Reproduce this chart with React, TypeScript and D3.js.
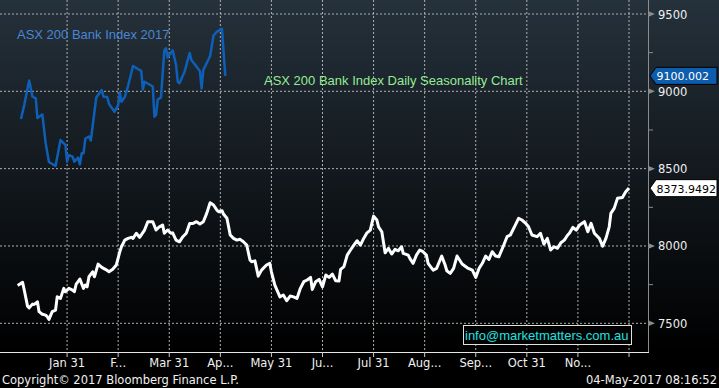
import * as d3 from 'd3';

// Seasonality line (white)
const seasonDates: string[] = [
  '01-01', '01-04', '01-05', '01-07', '01-08', '01-10', '01-11', '01-13', '01-14', '01-16',
  '01-18', '01-19', '01-20', '01-22', '01-24', '01-25', '01-27', '01-29', '01-30', '02-01',
  '02-03', '02-04', '02-05', '02-07', '02-09', '02-10', '02-11', '02-12', '02-14', '02-15',
  '02-17', '02-19', '02-21', '02-23', '02-25', '02-27', '03-01', '03-02', '03-04', '03-06',
  '03-08', '03-09', '03-11', '03-13', '03-16', '03-18', '03-21', '03-23', '03-25', '03-27',
  '03-28', '03-30', '04-01', '04-02', '04-04', '04-06', '04-08', '04-10', '04-12', '04-14',
  '04-16', '04-18', '04-20', '04-22', '04-24', '04-26', '04-28', '04-29', '05-01', '05-02',
  '05-04', '05-06', '05-08', '05-10', '05-12', '05-14', '05-16', '05-18', '05-19', '05-21',
  '05-23', '05-25', '05-28', '05-30', '05-31', '06-02', '06-05', '06-07', '06-09', '06-11',
  '06-13', '06-15', '06-17', '06-19', '06-21', '06-23', '06-24', '06-26', '06-28', '06-30',
  '07-02', '07-04', '07-06', '07-08', '07-10', '07-11', '07-13', '07-15', '07-17', '07-19',
  '07-21', '07-23', '07-25', '07-27', '07-29', '07-31', '08-02', '08-03', '08-05', '08-07',
  '08-09', '08-11', '08-13', '08-15', '08-17', '08-18', '08-21', '08-22', '08-24', '08-26',
  '08-28', '08-30', '09-01', '09-02', '09-05', '09-07', '09-10', '09-12', '09-13', '09-15',
  '09-17', '09-19', '09-22', '09-25', '09-28', '09-30', '10-02', '10-04', '10-06', '10-08',
  '10-10', '10-12', '10-14', '10-17', '10-19', '10-21', '10-24', '10-26', '10-28', '10-30',
  '11-01', '11-03', '11-06', '11-08', '11-10', '11-12', '11-14', '11-16', '11-18', '11-20',
  '11-22', '11-24', '11-25', '11-27', '11-29', '12-01', '12-04', '12-06', '12-08', '12-10',
  '12-13', '12-15', '12-17', '12-19', '12-20', '12-22', '12-24', '12-27', '12-29', '12-31',
];
const seasonValues: number[] = [
  7745, 7765, 7715, 7611, 7600, 7624, 7622, 7639, 7575, 7558,
  7553, 7542, 7525, 7575, 7585, 7671, 7661, 7726, 7704, 7726,
  7715, 7704, 7754, 7786, 7726, 7747, 7736, 7801, 7833, 7801,
  7883, 7862, 7849, 7833, 7849, 7877, 7963, 7995, 8038, 8049,
  8056, 8049, 8082, 8056, 8103, 8157, 8157, 8103, 8124, 8135,
  8082, 8103, 8082, 8085, 8038, 8027, 8060, 8082, 8146, 8146,
  8157, 8142, 8157, 8211, 8280, 8265, 8232, 8221, 8228, 8205,
  8179, 8071, 8049, 8038, 8043, 8027, 8006, 7909, 7898, 7904,
  7805, 7844, 7877, 7888, 7833, 7747, 7671, 7683, 7646, 7676,
  7671, 7661, 7726, 7769, 7780, 7797, 7719, 7769, 7784, 7736,
  7812, 7797, 7818, 7775, 7773, 7849, 7866, 7941, 7974, 8006,
  8034, 8006, 8049, 8085, 8103, 8193, 8168, 8124, 8092, 7956,
  7985, 7948, 7978, 7969, 7995, 7952, 7941, 7920, 7888, 7941,
  7974, 7963, 7941, 7888, 7844, 7855, 7935, 7877, 7840, 7823,
  7855, 7935, 7883, 7859, 7844, 7797, 7855, 7888, 7935, 7913,
  7963, 7935, 7930, 8006, 8060, 8071, 8135, 8179, 8168, 8150,
  8124, 8071, 8060, 8082, 8012, 8049, 7974, 7995, 7985, 8021,
  8038, 8071, 8082, 8120, 8103, 8135, 8157, 8092, 8146, 8082,
  8049, 7999, 8049, 8124, 8211, 8243, 8308, 8314, 8351, 8373.9492,
];

// ASX 200 Bank Index 2017 (blue)
const bankDates: string[] = [
  '01-03', '01-05', '01-08', '01-10', '01-12', '01-13', '01-16', '01-18', '01-20', '01-24',
  '01-27', '01-30', '01-31', '02-01', '02-03', '02-04', '02-06', '02-07', '02-08', '02-09',
  '02-10', '02-12', '02-13', '02-16', '02-19', '02-20', '02-22', '02-23', '02-26', '02-28',
  '03-01', '03-02', '03-04', '03-06', '03-09', '03-12', '03-14', '03-15', '03-16', '03-21',
  '03-22', '03-23', '03-24', '03-26', '03-28', '03-29', '03-30', '04-02', '04-04', '04-05',
  '04-06', '04-09', '04-12', '04-13', '04-18', '04-19', '04-20', '04-24', '04-26', '04-28',
  '05-01', '05-03',
];
const bankValues: number[] = [
  8821, 8911, 9070, 8965, 8955, 8827, 8850, 8664, 8543, 8517,
  8685, 8653, 8545, 8588, 8577, 8545, 8571, 8527, 8599, 8599,
  8695, 8708, 8682, 8960, 9008, 8965, 8963, 8918, 8868, 8911,
  8992, 8933, 8963, 9034, 9164, 9144, 9133, 9012, 9062, 9031,
  8836, 8847, 8947, 8961, 9265, 9278, 9219, 9265, 9170, 9062,
  9052, 9127, 9248, 9202, 9131, 9019, 9138, 9228, 9361, 9386,
  9404, 9100.002,
];

const monthLabels: string[] = [
  'Jan 31', 'F...', 'Mar 31', 'Ap...', 'May 31', 'Ju...', 'Jul 31', 'Aug...', 'Sep...', 'Oct 31', 'No...', '',
];
const yTicks: number[] = [7500, 8000, 8500, 9000, 9500];
const yMinor: number[] = [7750, 8250, 8750, 9250];

const W = 719;
const H = 388;
const plotRight = 648;
const plotBottom = 352;
const xStart = 16;
const xEnd = 629;

const parse = d3.timeParse('%Y-%m-%d');
const toDate = (s: string) => parse('2017-' + s) as Date;

// Bloomberg spaces months evenly, so the time scale is piecewise on month ends
const monthEnds: Date[] = d3.range(13).map((i) =>
  d3.timeDay.offset(d3.timeMonth.offset(new Date(2017, 0, 1), i), -1)
);
const x = d3
  .scaleTime()
  .domain(monthEnds)
  .range(d3.range(13).map((i) => xStart + (i * (xEnd - xStart)) / 12));

const y = d3.scaleLinear().domain([7500, 9500]).range([323.3, 14]);

const line = d3
  .line<[Date, number]>()
  .x((d) => x(d[0]))
  .y((d) => y(d[1]));

const seasonData: [Date, number][] = seasonDates.map((d, i) => [toDate(d), seasonValues[i]]);
const bankData: [Date, number][] = bankDates.map((d, i) => [toDate(d), bankValues[i]]);

const axisFont = 'DejaVu Sans';

function Tag({ value, label, fill, color }: { value: number; label: string; fill: string; color: string }) {
  const cy = y(value);
  const h = 17;
  const path = `M650,${cy} L656,${cy - h / 2} L717,${cy - h / 2} L717,${cy + h / 2} L656,${cy + h / 2} Z`;
  return (
    <g>
      <path d={path} fill={fill} stroke="#000" strokeWidth={1} />
      <text x={656.5} y={cy + 4.5} fill={color} fontFamily={axisFont} fontSize={11}>
        {label}
      </text>
    </g>
  );
}

export default function App() {
  const lastSeason = seasonValues[seasonValues.length - 1];
  const lastBank = bankValues[bankValues.length - 1];
  return (
    <svg width={W} height={H} style={{ position: 'absolute', left: 0, top: 0, display: 'block' }}>
      <defs>
        <linearGradient id="bg" x1="0" y1="0" x2="0" y2={plotBottom} gradientUnits="userSpaceOnUse">
          <stop offset="0" stopColor="#25313b" />
          <stop offset="0.5" stopColor="#12181d" />
          <stop offset="1" stopColor="#000000" />
        </linearGradient>
      </defs>
      <rect x={0} y={0} width={W} height={H} fill="#000" />
      <rect x={0} y={0} width={W} height={plotBottom} fill="url(#bg)" />

      {/* grid */}
      {monthEnds.slice(1).map((d, i) => (
        <line key={'gx' + i} x1={x(d)} x2={x(d)} y1={0} y2={plotBottom} stroke="#b0b0b0" strokeWidth={1} strokeDasharray="2,2" />
      ))}
      {yTicks.map((t) => (
        <line key={'gy' + t} x1={0} x2={plotRight} y1={y(t)} y2={y(t)} stroke="#b0b0b0" strokeWidth={1} strokeDasharray="2,2" />
      ))}

      {/* watermark */}
      <rect x={463.5} y={325.5} width={168} height={19} fill="#000" stroke="#e0e0e0" strokeWidth={1} />
      <text x={465} y={340} fill="#22e0e0" fontFamily="Liberation Sans" fontSize={13}>
        info@marketmatters.com.au
      </text>

      {/* series */}
      <path d={line(seasonData) || ''} fill="none" stroke="#ffffff" strokeWidth={3} strokeLinejoin="round" />
      <path d={line(bankData) || ''} fill="none" stroke="#0d5fb8" strokeWidth={2.5} strokeLinejoin="round" />

      <text x={17} y={39} fill="#4a86d6" fontFamily="Liberation Sans" fontSize={13}>
        ASX 200 Bank Index 2017
      </text>
      <text x={264} y={84.5} fill="#94ec94" fontFamily="Liberation Sans" fontSize={13}>
        ASX 200 Bank Index Daily Seasonality Chart
      </text>

      {/* right axis */}
      <line x1={plotRight + 0.5} x2={plotRight + 0.5} y1={0} y2={plotBottom} stroke="#8c8c8c" strokeWidth={1} />
      {yTicks.map((t) => (
        <g key={'yt' + t}>
          <path d={`M${plotRight},${y(t) - 3} L${plotRight + 7},${y(t)} L${plotRight},${y(t) + 3} Z`} fill="#8c8c8c" />
          <text x={658} y={y(t) + 4.5} fill="#f0f0f0" fontFamily={axisFont} fontSize={11.5}>
            {t}
          </text>
        </g>
      ))}
      {yMinor.map((t) => (
        <line key={'ym' + t} x1={plotRight} x2={plotRight + 5} y1={y(t)} y2={y(t)} stroke="#8c8c8c" strokeWidth={1} />
      ))}

      <Tag value={lastBank} label="9100.002" fill="#0d5cad" color="#ffffff" />
      <Tag value={lastSeason} label="8373.9492" fill="#ffffff" color="#000000" />

      {/* bottom axis */}
      <line x1={0} x2={plotRight + 1} y1={plotBottom + 0.5} y2={plotBottom + 0.5} stroke="#e6e6e6" strokeWidth={1} />
      {monthEnds.slice(1).map((d, i) => (
        <g key={'xt' + i}>
          <line x1={x(d)} x2={x(d)} y1={plotBottom} y2={plotBottom + 5} stroke="#cccccc" strokeWidth={1} />
          <text x={x(d)} y={366.5} textAnchor="middle" fill="#f0f0f0" fontFamily={axisFont} fontSize={11.5}>
            {monthLabels[i]}
          </text>
        </g>
      ))}

      <text x={2} y={384} fill="#f0f0f0" fontFamily={axisFont} fontSize={11.5}>
        Copyright© 2017 Bloomberg Finance L.P.
      </text>
      <text x={717} y={384} textAnchor="end" fill="#f0f0f0" fontFamily={axisFont} fontSize={11.5}>
        04-May-2017 08:16:52
      </text>
    </svg>
  );
}
